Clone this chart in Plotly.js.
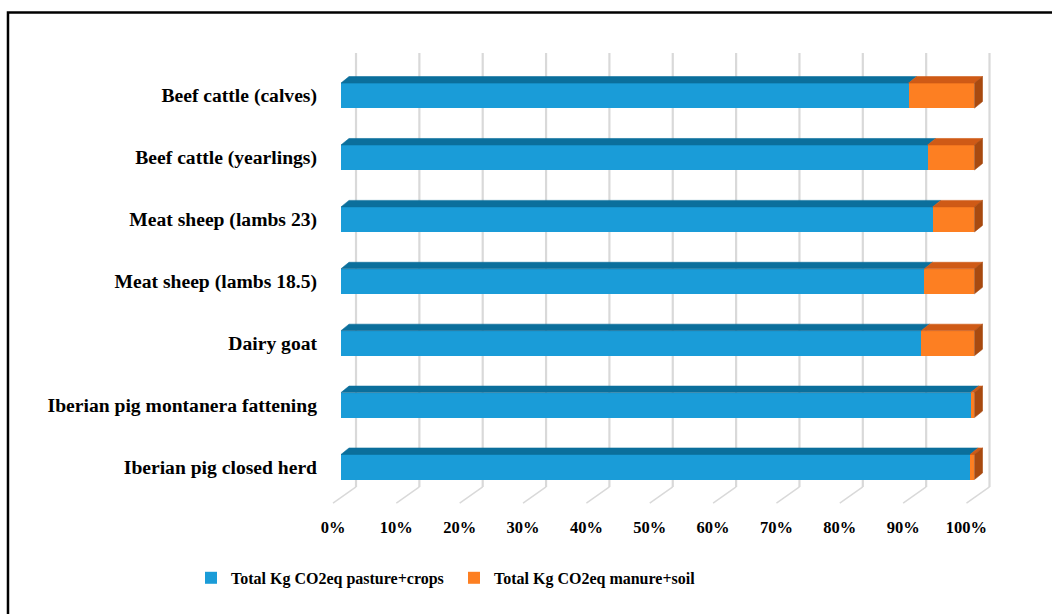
<!DOCTYPE html>
<html>
<head>
<meta charset="utf-8">
<script src="https://cdn.plot.ly/plotly-3.0.1.min.js"></script>
<style>html,body{margin:0;padding:0;background:#fff;}#chart{width:1052px;height:614px;}</style>
</head>
<body>
<div id="chart"></div>
<script>
// Data (bottom to top)
const categories = [
  'Iberian pig closed herd',
  'Iberian pig montanera fattening',
  'Dairy goat',
  'Meat sheep (lambs 18.5)',
  'Meat sheep (lambs 23)',
  'Beef cattle (yearlings)',
  'Beef cattle (calves)'
];
const pastureCrops = [99.3, 99.4, 91.6, 92.1, 93.4, 92.6, 89.6];
const manureSoil   = [0.7, 0.6, 8.4, 7.9, 6.6, 7.4, 10.4];
const xTicks = [0, 10, 20, 30, 40, 50, 60, 70, 80, 90, 100];
const seriesNames = ['Total Kg CO2eq pasture+crops', 'Total Kg CO2eq manure+soil'];

// Styling constants for pseudo-3D
const BLUE = '#1a9cd8', BLUE_TOP = '#0b6f9c';
const ORANGE = '#fd7f22', ORANGE_TOP = '#cf5a16', ORANGE_SIDE = '#a84a10';
const HW = 0.202;   // half bar thickness (y units)
const DX = 1.263;   // depth offset in x units
const DY = 0.105;   // depth offset in y units
const BX = 2.37;    // back wall offset
const LX = -1.263;  // label plane offset
const G_TOP = 6.688, G_FB = -0.323, G_FF = -0.582;
const FONT = 'Liberation Serif, Times New Roman, serif';

const idx = categories.map((c, i) => i);

function poly(builder) {
  const xs = [], ys = [];
  idx.forEach(i => {
    const pts = builder(i);
    pts.forEach(p => { xs.push(p[0]); ys.push(p[1]); });
    xs.push(pts[0][0]); ys.push(pts[0][1]);
    xs.push(null); ys.push(null);
  });
  return {xs, ys};
}

const blueTop = poly(i => {
  const u = i, p = pastureCrops[i];
  return [[0, u + HW], [DX, u + HW + DY], [p + DX, u + HW + DY], [p, u + HW]];
});
const orangeTop = poly(i => {
  const u = i, p = pastureCrops[i], e = p + manureSoil[i];
  return [[p, u + HW], [p + DX, u + HW + DY], [e + DX, u + HW + DY], [e, u + HW]];
});
const orangeSide = poly(i => {
  const u = i, e = pastureCrops[i] + manureSoil[i];
  return [[e, u - HW], [e + DX, u - HW + DY], [e + DX, u + HW + DY], [e, u + HW]];
});

function faceTrace(d, color) {
  return {
    type: 'scatter', mode: 'lines', x: d.xs, y: d.ys, fill: 'toself',
    fillcolor: color, line: {color: color, width: 0.6},
    hoverinfo: 'skip', showlegend: false
  };
}

const traces = [
  {
    type: 'bar', orientation: 'h', name: seriesNames[0],
    x: pastureCrops, y: idx, width: 2 * HW,
    marker: {color: BLUE, line: {width: 0}}
  },
  {
    type: 'bar', orientation: 'h', name: seriesNames[1],
    x: manureSoil, y: idx, width: 2 * HW,
    marker: {color: ORANGE, line: {width: 0}}
  },
  faceTrace(blueTop, BLUE_TOP),
  faceTrace(orangeTop, ORANGE_TOP),
  faceTrace(orangeSide, ORANGE_SIDE)
];

const shapes = [];
xTicks.forEach(v => {
  shapes.push({type: 'line', layer: 'below', xref: 'x', yref: 'y',
    x0: v + BX, x1: v + BX, y0: G_FB, y1: G_TOP,
    line: {color: '#d9d9d9', width: 2.2}});
  shapes.push({type: 'line', layer: 'below', xref: 'x', yref: 'y',
    x0: v + BX, x1: v + LX, y0: G_FB, y1: G_FF,
    line: {color: '#d9d9d9', width: 1.5}});
});
// outer frame
shapes.push({type: 'rect', xref: 'paper', yref: 'paper',
  x0: -0.4611, x1: 1.3, y0: -0.6, y1: 1.0699,
  line: {color: '#000', width: 2.5}, fillcolor: 'rgba(0,0,0,0)'});

const layout = {
  width: 1052, height: 614,
  margin: {l: 322, r: 49, t: 45, b: 104},
  paper_bgcolor: '#fff', plot_bgcolor: 'rgba(0,0,0,0)',
  barmode: 'stack', bargap: 0,
  showlegend: true,
  font: {family: FONT, color: '#000'},
  xaxis: {
    range: [-3, 104.5], showgrid: false, zeroline: false, showline: false,
    tickmode: 'array',
    tickvals: xTicks.map(v => v + LX),
    ticktext: xTicks.map(v => v + '%'),
    ticks: '', ticklabelstandoff: 5,
    tickfont: {family: FONT, size: 16.5, color: '#000', weight: 'bold'},
    fixedrange: true
  },
  yaxis: {
    range: [-0.6947, 6.817], showgrid: false, zeroline: false, showline: false,
    tickmode: 'array', tickvals: idx, ticktext: categories,
    ticks: '', ticklabelstandoff: 4,
    tickfont: {family: FONT, size: 19.6, color: '#000', weight: 'bold'},
    fixedrange: true
  },
  legend: {
    orientation: 'h', x: -0.1924, xanchor: 'left', y: -0.146, yanchor: 'middle',
    font: {family: FONT, size: 16, color: '#000', weight: 'bold'},
    entrywidth: 218, entrywidthmode: 'pixels',
    traceorder: 'normal', bgcolor: 'rgba(0,0,0,0)'
  },
  shapes: shapes
};

Plotly.newPlot('chart', traces, layout, {displayModeBar: false, staticPlot: true});
</script>
</body>
</html>
